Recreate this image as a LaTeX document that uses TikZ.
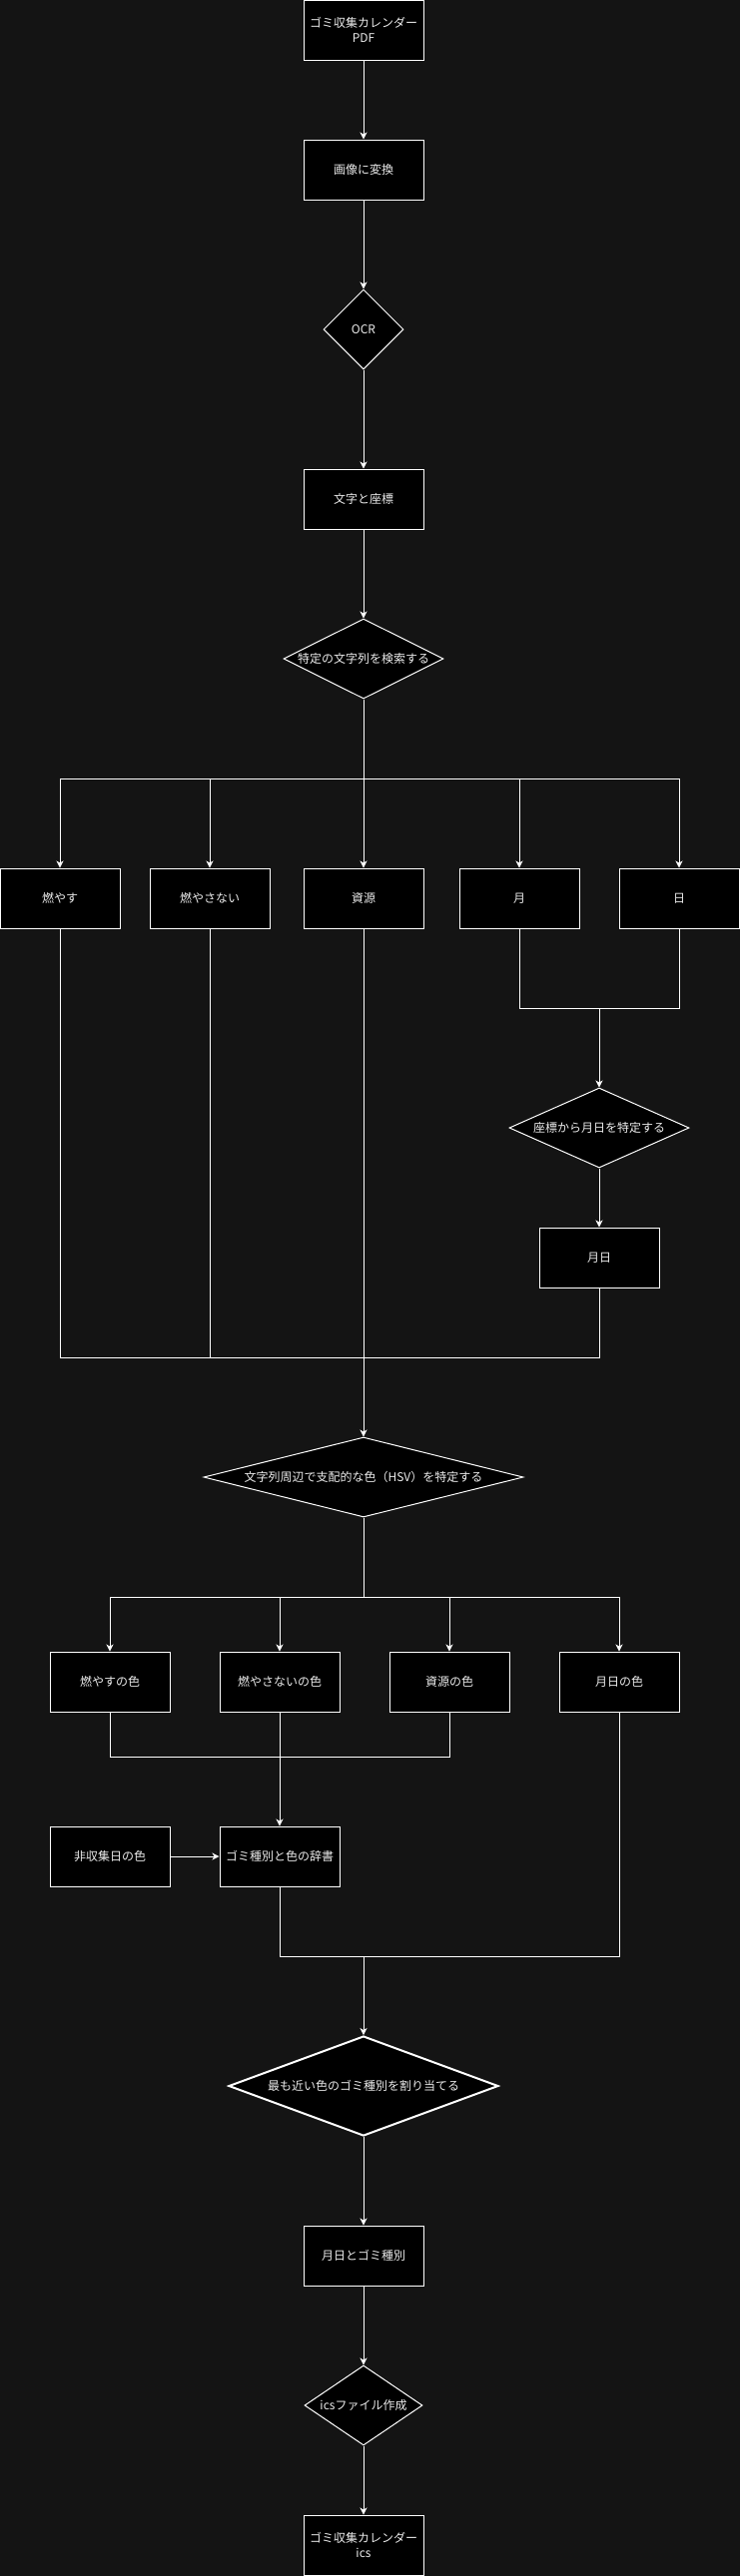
\documentclass[tikz,border=0pt]{standalone}
\usepackage{fontspec}
\setmainfont{Noto Sans CJK JP}
\usetikzlibrary{shapes.geometric,arrows.meta}
\definecolor{bgc}{RGB}{20,20,20}
\definecolor{txt}{RGB}{236,236,236}
\tikzset{
  lab/.style={text=txt, font=\fontsize{12}{14.5}\selectfont, align=center},
  base/.style={draw=white, fill=black, line width=1pt, lab},
  box/.style={base, rectangle, minimum width=120pt, minimum height=60pt, inner sep=0pt},
  dia/.style={base, diamond, inner sep=0pt},
  ln/.style={draw=white, line width=1pt},
  arr/.style={ln, -{Stealth[length=7pt,width=7pt,inset=2pt]}},
}
\begin{document}
\begin{tikzpicture}[x=1pt,y=-1pt]
\useasboundingbox (0,0) rectangle (741,2581);
\fill[bgc] (0,0) rectangle (741,2581);

% nodes
\node[box] (pdf) at (364,30) {ゴミ収集カレンダー\\PDF};
\node[box] (img) at (364,170) {画像に変換};
\node[dia, minimum width=80pt, minimum height=80pt, label={[lab]center:OCR}] (ocr) at (364,330) {};
\node[box] (moji) at (364,500) {文字と座標};
\node[dia, minimum width=160pt, minimum height=80pt, label={[lab]center:特定の文字列を検索する}] (search) at (364,660) {};

\node[box] (b1) at (60,900) {燃やす};
\node[box] (b2) at (210,900) {燃やさない};
\node[box] (b3) at (364,900) {資源};
\node[box] (b4) at (520,900) {月};
\node[box] (b5) at (680,900) {日};

\node[dia, minimum width=180pt, minimum height=80pt, label={[lab]center:座標から月日を特定する}] (date) at (600,1130) {};
\node[box] (gappi) at (600,1260) {月日};

\node[dia, minimum width=320pt, minimum height=80pt, label={[lab]center:文字列周辺で支配的な色（HSV）を特定する}] (hsv) at (364,1480) {};

\node[box] (c1) at (110,1685) {燃やすの色};
\node[box] (c2) at (280,1685) {燃やさないの色};
\node[box] (c3) at (450,1685) {資源の色};
\node[box] (c4) at (620,1685) {月日の色};

\node[box] (non) at (110,1860) {非収集日の色};
\node[box] (dict) at (280,1860) {ゴミ種別と色の辞書};

\node[dia, line width=2pt, minimum width=270pt, minimum height=100pt, label={[lab]center:最も近い色のゴミ種別を割り当てる}] (assign) at (364,2090) {};
\node[box] (res) at (364,2260) {月日とゴミ種別};
\node[dia, minimum width=118pt, minimum height=80pt, label={[lab]center:icsファイル作成}] (ics) at (364,2410) {};
\node[box] (final) at (364,2550) {ゴミ収集カレンダー\\ics};

% junction points
\coordinate (s1) at (364,780);
\coordinate (j1) at (600,1010);
\coordinate (j2) at (364,1360);
\coordinate (s2) at (364,1600);
\coordinate (j3) at (280,1760);
\coordinate (j4) at (364,1960);

% connectors
\draw[arr] (pdf) -- (img);
\draw[arr] (img) -- (ocr);
\draw[arr] (ocr) -- (moji);
\draw[arr] (moji) -- (search);
\draw[ln] (search.south) -- (s1);
\draw[arr] (s1) -| (b1);
\draw[arr] (s1) -| (b2);
\draw[arr] (search) -- (b3);
\draw[arr] (s1) -| (b4);
\draw[arr] (s1) -| (b5);

\draw[ln] (b4.south) |- (j1);
\draw[ln] (b5.south) |- (j1);
\draw[arr] (j1) -- (date);
\draw[arr] (date) -- (gappi);

\draw[ln] (b1.south) |- (j2);
\draw[ln] (b2.south) |- (j2);
\draw[ln] (gappi.south) |- (j2);
\draw[arr] (b3) -- (hsv);

\draw[ln] (hsv.south) -- (s2);
\draw[arr] (s2) -| (c1);
\draw[arr] (s2) -| (c2);
\draw[arr] (s2) -| (c3);
\draw[arr] (s2) -| (c4);

\draw[ln] (c1.south) |- (j3);
\draw[ln] (c3.south) |- (j3);
\draw[arr] (c2) -- (dict);
\draw[arr] (non) -- (dict);

\draw[ln] (dict.south) |- (j4);
\draw[ln] (c4.south) |- (j4);
\draw[arr] (j4) -- (assign);
\draw[arr] (assign) -- (res);
\draw[arr] (res) -- (ics);
\draw[arr] (ics) -- (final);
\end{tikzpicture}
\end{document}
